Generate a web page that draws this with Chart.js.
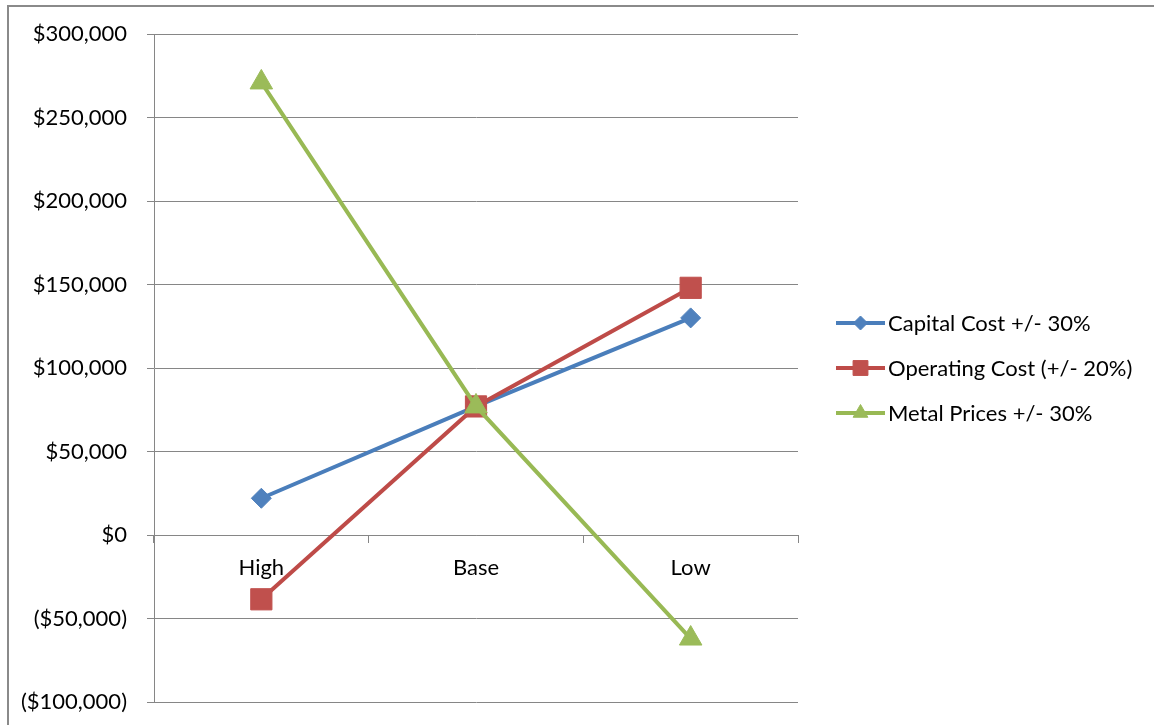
<!DOCTYPE html>
<html>
<head>
<meta charset="utf-8">
<script src="https://cdn.jsdelivr.net/npm/chart.js@4/dist/chart.umd.min.js"></script>
<style>
  html, body { margin: 0; padding: 0; background: #fff; overflow: hidden; }
  #wrap { position: absolute; left: 0; top: 0; width: 1154px; height: 725px; }
</style>
</head>
<body>
<div id="wrap"><canvas id="chart" width="1154" height="725"></canvas></div>
<script>
// Sensitivity scenarios
const categories = ['High', 'Base', 'Low'];

const capitalCost   = [22000, 77000, 130000];
const operatingCost = [-38500, 77000, 148000];
const metalPrices   = [271000, 77000, -62000];

const seriesNames = ['Capital Cost +/- 30%', 'Operating Cost (+/- 20%)', 'Metal Prices +/- 30%'];

const yMin = -100000, yMax = 300000, yStep = 50000;

const FONT = 'Lato, "Open Sans", sans-serif';
const FONT_SIZE = 22;
const GRID = '#868686';

function money(v) {
  const s = '$' + Math.abs(v).toLocaleString('en-US');
  return v < 0 ? '(' + s + ')' : s;
}

// frame around the chart
const framePlugin = {
  id: 'frame',
  beforeDraw(chart) {
    const ctx = chart.ctx;
    ctx.save();
    ctx.fillStyle = '#fff';
    ctx.fillRect(0, 0, chart.width, chart.height);
    ctx.fillStyle = '#8a8a8a';
    ctx.fillRect(7, 5, 2, chart.height);
    ctx.fillRect(7, 5, chart.width, 2);
    ctx.restore();
  }
};

// legend with line + marker samples on the right
const lineLegend = {
  id: 'lineLegend',
  afterDraw(chart) {
    const ctx = chart.ctx;
    const area = chart.chartArea;
    const cy = (area.top + area.bottom) / 2;
    const x0 = area.right + 38, x1 = x0 + 49, xm = (x0 + x1) / 2;
    const sizes = [7, 10.5, 8.5];
    chart.data.datasets.forEach((ds, i) => {
      const y = cy + (i - 1) * 45;
      ctx.save();
      ctx.strokeStyle = ds.borderColor;
      ctx.lineWidth = 4;
      ctx.beginPath();
      ctx.moveTo(x0, y);
      ctx.lineTo(x1, y);
      ctx.stroke();
      ctx.fillStyle = ds.pointBackgroundColor;
      ctx.strokeStyle = ds.pointBackgroundColor;
      ctx.lineWidth = 1;
      Chart.helpers.drawPoint(ctx, { pointStyle: ds.pointStyle, radius: sizes[i], borderWidth: 1, rotation: 0 }, xm, y);
      ctx.fillStyle = '#000';
      ctx.font = FONT_SIZE + 'px ' + FONT;
      ctx.textBaseline = 'middle';
      ctx.textAlign = 'left';
      ctx.fillText(ds.label, x1 + 3, y + 1);
      ctx.restore();
    });
  }
};

new Chart(document.getElementById('chart'), {
  type: 'line',
  data: {
    labels: categories,
    datasets: [
      {
        label: seriesNames[0], data: capitalCost, order: 2,
        borderColor: '#4a7ebb', pointBackgroundColor: '#4f81bd', pointBorderColor: '#4f81bd',
        pointStyle: 'rectRot', pointRadius: 10, borderWidth: 4, pointBorderWidth: 1
      },
      {
        label: seriesNames[1], data: operatingCost, order: 1,
        borderColor: '#be4b48', pointBackgroundColor: '#c0504d', pointBorderColor: '#c0504d',
        pointStyle: 'rect', pointRadius: 15, borderWidth: 4, pointBorderWidth: 1
      },
      {
        label: seriesNames[2], data: metalPrices, order: 0,
        borderColor: '#98b954', pointBackgroundColor: '#9bbb59', pointBorderColor: '#9bbb59',
        pointStyle: 'triangle', pointRadius: 13, borderWidth: 4, pointBorderWidth: 1
      }
    ]
  },
  options: {
    responsive: false,
    animation: false,
    devicePixelRatio: 1,
    layout: { padding: { left: 0, top: 34, right: 356, bottom: 23 } },
    plugins: {
      legend: { display: false },
      tooltip: { enabled: false }
    },
    elements: { line: { tension: 0 } },
    scales: {
      x: {
        type: 'category',
        position: { y: 0 },
        offset: true,
        grid: {
          offset: true, drawOnChartArea: false, drawTicks: true,
          tickLength: 7, color: GRID, lineWidth: 1
        },
        border: { display: true, color: GRID, width: 1 },
        ticks: { color: '#000', font: { family: FONT, size: FONT_SIZE }, padding: 13 }
      },
      y: {
        min: yMin, max: yMax,
        afterFit(scale) {
          scale.width = 154;
          scale.paddingTop = 0;
          scale.paddingBottom = 0;
        },
        grid: { color: GRID, lineWidth: 1, tickLength: 7, drawTicks: true },
        border: { display: true, color: GRID, width: 1 },
        ticks: {
          stepSize: yStep,
          color: '#000',
          font: { family: FONT, size: FONT_SIZE },
          padding: 20,
          callback: (v) => money(v)
        }
      }
    }
  },
  plugins: [framePlugin, lineLegend]
});
</script>
</body>
</html>
